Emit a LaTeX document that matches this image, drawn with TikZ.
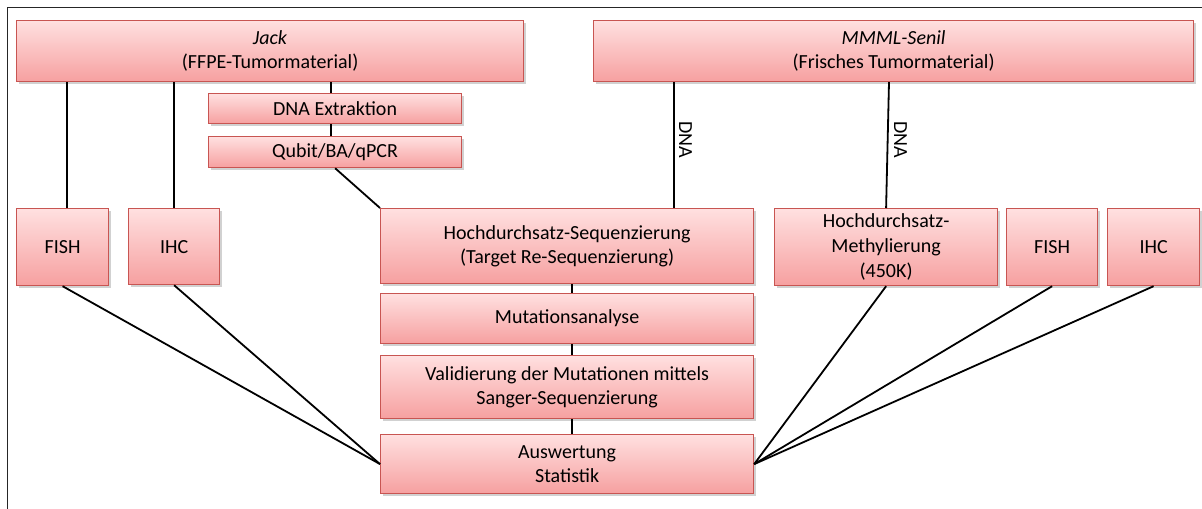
\documentclass[tikz,border=0pt]{standalone}
\usepackage{fontspec}
\setmainfont{Carlito}
\usetikzlibrary{shadows}
\definecolor{boxtop}{RGB}{255,224,224}
\definecolor{boxbot}{RGB}{246,160,160}
\definecolor{boxline}{RGB}{200,85,82}
\tikzset{
  pbox/.style={draw=boxline, line width=1.2bp, top color=boxtop, bottom color=boxbot,
    anchor=north west, inner sep=0pt, align=center,
    font=\fontsize{20bp}{24bp}\selectfont,
    drop shadow={shadow xshift=2bp, shadow yshift=-2bp, opacity=0.3, fill=black!60}},
  conn/.style={line width=1.8bp, black},
  dnalab/.style={rotate=-90, font=\fontsize{20bp}{22bp}\selectfont, inner sep=0pt}
}
\begin{document}
\begin{tikzpicture}[x=1bp, y=-1bp]
\useasboundingbox (0,0) rectangle (1202,509);
\draw[line width=1.2bp, black!85] (7.5,509) -- (7.5,7.5) -- (1202,7.5);
% boxes
\node[pbox, minimum width=507bp, minimum height=61bp] (jack) at (16,20) {\textit{Jack}\\(FFPE-Tumormaterial)};
\node[pbox, minimum width=600bp, minimum height=61bp] (mmml) at (593,20) {\textit{MMML-Senil}\\(Frisches Tumormaterial)};
\node[pbox, minimum width=253bp, minimum height=30bp] (dna) at (208,93) {DNA Extraktion};
\node[pbox, minimum width=253bp, minimum height=31bp] (qubit) at (208,136) {Qubit/BA/qPCR};
\node[pbox, minimum width=92bp, minimum height=77bp] (fishL) at (16,208) {FISH};
\node[pbox, minimum width=91bp, minimum height=76bp] (ihcL) at (128,208) {IHC};
\node[pbox, minimum width=373bp, minimum height=75bp] (hds) at (380,208) {Hochdurchsatz-Sequenzierung\\(Target Re-Sequenzierung)};
\node[pbox, minimum width=373bp, minimum height=50bp] (mut) at (380,293) {Mutationsanalyse};
\node[pbox, minimum width=373bp, minimum height=63bp] (val) at (380,355) {Validierung der Mutationen mittels\\Sanger-Sequenzierung};
\node[pbox, minimum width=373bp, minimum height=59bp] (ausw) at (380,434) {Auswertung\\Statistik};
\node[pbox, minimum width=223bp, minimum height=77bp, font=\fontsize{20bp}{25bp}\selectfont] (meth) at (774,208) {Hochdurchsatz-\\Methylierung\\(450K)};
\node[pbox, minimum width=91bp, minimum height=77bp] (fishR) at (1006,208) {FISH};
\node[pbox, minimum width=92bp, minimum height=77bp] (ihcR) at (1107,208) {IHC};
% connectors
\draw[conn] (jack.south -| 67,0) -- (fishL.north -| 67,0);
\draw[conn] (jack.south -| ihcL.north) -- (ihcL.north);
\draw[conn] (jack.south -| 331,0) -- (dna.north -| 331,0);
\draw[conn] (dna.south -| 331,0) -- (qubit.north -| 331,0);
\draw[conn] (qubit.south) -- (hds.north west);
\draw[conn] (mmml.south -| 674,0) -- (hds.north -| 674,0);
\path (mmml.south -| 679,0) -- (hds.north -| 679,0) node[dnalab, pos=0.46, anchor=south] {DNA};
\draw[conn] (mmml.south -| 889,0) -- (meth.north);
\path (mmml.south -| 894,0) -- (meth.north -| 894,0) node[dnalab, pos=0.46, anchor=south] {DNA};
\draw[conn] (hds.south -| 572,0) -- (mut.north -| 572,0);
\draw[conn] (mut.south -| 572,0) -- (val.north -| 572,0);
\draw[conn] (val.south -| 572,0) -- (ausw.north -| 572,0);
\draw[conn] (fishL.south) -- (ausw.west);
\draw[conn] (ihcL.south) -- (ausw.west);
\draw[conn] (meth.south) -- (ausw.east);
\draw[conn] (fishR.south) -- (ausw.east);
\draw[conn] (ihcR.south) -- (ausw.east);
\end{tikzpicture}
\end{document}
